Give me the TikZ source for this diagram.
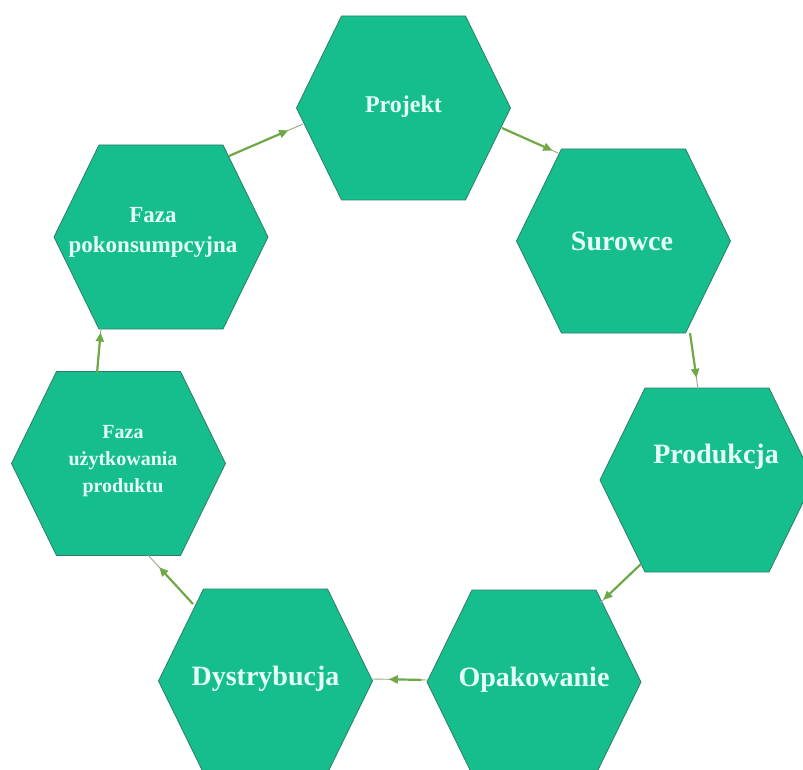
\documentclass[tikz,border=0pt]{standalone}
\usepackage{fontspec}
\setmainfont{Liberation Serif}
\usetikzlibrary{arrows.meta,calc}
\definecolor{hexfill}{RGB}{22,190,142}
\definecolor{hexedge}{RGB}{45,125,105}
\definecolor{txtcol}{RGB}{228,255,246}
\definecolor{arrcol}{RGB}{112,168,70}
\definecolor{thincol}{RGB}{150,170,130}
\newcommand\hexpath[2]{\path[hexshape] (#1,#2) ++(-107,0) -- ++(45,-92) -- ++(124,0) -- ++(45,92) -- ++(-45,92) -- ++(-124,0) -- cycle;}
\begin{document}
\begin{tikzpicture}[x=1pt,y=-1pt,
  hexshape/.style={fill=hexfill,draw=hexedge,line width=0.8pt},
  lbl/.style={text=txtcol,align=center,inner sep=0pt},
  big/.style={font=\bfseries\fontsize{28}{32}\selectfont},
  thinline/.style={draw=thincol,line width=0.9pt},
  arrowline/.style={draw=arrcol,line width=2.2pt,-{Triangle[length=9pt,width=8pt]}}]
\useasboundingbox (0,0) rectangle (803,770);
% hexagons
\hexpath{403.5}{108}
\hexpath{623.5}{241}
\hexpath{707}{480}
\hexpath{534}{682}
\hexpath{265.5}{681}
\hexpath{118.5}{463.5}
\hexpath{161}{237}
% labels
\node[lbl,font=\bfseries\fontsize{24}{28}\selectfont] (projekt) at (403.5,107) {Projekt};
\node[lbl,big] (surowce) at (622,241) {Surowce};
\node[lbl,big] (produkcja) at (716,457) {Produkcja};
\node[lbl,big] (opakowanie) at (534,680) {Opakowanie};
\node[lbl,big] (dystrybucja) at (265.5,679) {Dystrybucja};
\node[lbl,font=\bfseries\fontsize{20}{27}\selectfont] (uzyt) at (123,461) {Faza\\użytkowania\\produktu};
\node[lbl,font=\bfseries\fontsize{23}{30}\selectfont] (pokons) at (153,232) {Faza\\pokonsumpcyjna};
% connector end points
\coordinate (a1s) at (502,128); \coordinate (a1t) at (558,153);
\coordinate (a2s) at (690,333); \coordinate (a2t) at (698,389);
\coordinate (a3s) at (641,564); \coordinate (a3t) at (600,603);
\coordinate (a4s) at (428,680); \coordinate (a4t) at (372,679);
\coordinate (a5s) at (193,604); \coordinate (a5t) at (148,555);
\coordinate (a6s) at (97,373);  \coordinate (a6t) at (101,328);
\coordinate (a7s) at (229,156); \coordinate (a7t) at (303,124);
% connectors
\draw[thinline] (a1s) -- (a1t);
\draw[arrowline] (a1s) -- ($(a1s)!0.9!(a1t)$);
\draw[thinline] (a2s) -- (a2t);
\draw[arrowline] (a2s) -- ($(a2s)!0.8!(a2t)$);
\draw[thinline] (a3s) -- (a3t);
\draw[arrowline] (a3s) -- ($(a3s)!0.92!(a3t)$);
\draw[thinline] (a4s) -- (a4t);
\draw[arrowline] ($(a4s)!0.12!(a4t)$) -- ($(a4s)!0.7!(a4t)$);
\draw[thinline] (a5s) -- (a5t);
\draw[arrowline] (a5s) -- ($(a5s)!0.75!(a5t)$);
\draw[thinline] (a6s) -- (a6t);
\draw[arrowline] (a6s) -- ($(a6s)!0.9!(a6t)$);
\draw[thinline] (a7s) -- (a7t);
\draw[arrowline] (a7s) -- ($(a7s)!0.8!(a7t)$);
\end{tikzpicture}
\end{document}
